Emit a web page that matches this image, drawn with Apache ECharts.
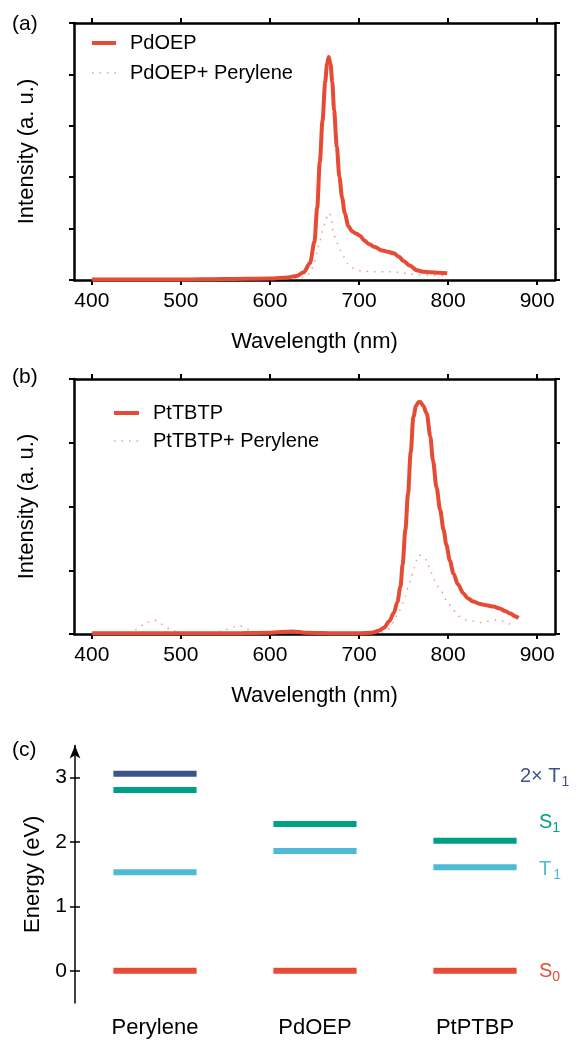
<!DOCTYPE html>
<html>
<head>
<meta charset="utf-8">
<script src="https://cdn.jsdelivr.net/npm/echarts@6/dist/echarts.min.js"></script>
<style>
html,body{margin:0;padding:0;background:#fff;}
#chart{width:577px;height:1040px;}
</style>
</head>
<body>
<div id="chart"></div>
<script>
// ---------- DATA ----------
// Panel (a): PdOEP emission
const pdoepWl  = [400,450,500,550,600,620,630,638,645,650,653,656,659,662,664,666,668,670,672,675,678,681,684,688,692,697,701,706,711,718,725,732,739,745,750,757,765,772,780,790,799];
const pdoepVal = [0.01,0.01,0.01,0.02,0.03,0.05,0.08,0.15,0.33,0.75,1.4,2.3,3.1,3.85,4.2,4.34,4.2,3.85,3.3,2.6,2.0,1.6,1.3,1.05,0.95,0.9,0.86,0.77,0.7,0.64,0.58,0.55,0.52,0.45,0.37,0.28,0.19,0.16,0.15,0.14,0.13];
const pdoepPerWl  = [400,500,600,630,640,645,650,653,656,659,662,665,667,669,671,675,679,683,687,692,698,705,717,735,745,754,765,780,798];
const pdoepPerVal = [0.01,0.01,0.02,0.03,0.06,0.13,0.35,0.55,0.78,0.95,1.12,1.28,1.3,1.15,0.92,0.72,0.58,0.45,0.32,0.24,0.19,0.17,0.16,0.16,0.15,0.13,0.1,0.09,0.08];

// Panel (b): PtTBTP emission
const pttbtpWl  = [400,450,500,550,600,625,640,680,700,714,722,728,734,739,743,746.5,749,752,755,758,761,764,767,769,772,776,780,783,787,791,795,798,802,806,811,817,822,828,836,843,851,858,864,870,875,879];
const pttbtpVal = [0.01,0.01,0.01,0.01,0.02,0.04,0.02,0.01,0.01,0.02,0.05,0.1,0.2,0.33,0.5,0.74,1.1,1.63,2.2,2.85,3.4,3.58,3.64,3.64,3.58,3.46,3.1,2.72,2.3,1.95,1.63,1.4,1.15,0.95,0.78,0.64,0.56,0.51,0.47,0.45,0.43,0.4,0.36,0.32,0.28,0.25];
const pttbtpPerWl  = [441,450,458,463,470,476,482,490,500,520,540,552,560,566,572,580,590,610,640,680,720,730,735,739,743,746,749,752,755,758,761,764,767,771,776,780,784,788,792,799,805,810,815,821,828,836,843,851,857,862,868,875];
const pttbtpPerVal = [0.02,0.07,0.14,0.19,0.22,0.18,0.12,0.05,0.03,0.02,0.03,0.07,0.11,0.13,0.09,0.04,0.02,0.02,0.01,0.01,0.01,0.04,0.09,0.2,0.3,0.38,0.48,0.59,0.72,0.84,1.0,1.15,1.24,1.22,1.16,1.0,0.85,0.75,0.67,0.51,0.4,0.3,0.25,0.22,0.2,0.18,0.2,0.22,0.22,0.2,0.16,0.12];

const wlTicks = [400,500,600,700,800,900];

// Panel (c): energy levels (eV)
const levelCategories = ['Perylene','PdOEP','PtPTBP'];
const twoT1Levels = [3.06, null, null];
const s1Levels = [2.81, 2.28, 2.02];
const t1Levels = [1.53, 1.86, 1.61];
const s0Levels = [0, 0, 0];
const energyTicks = [0,1,2,3];

// ---------- STYLE ----------
const FONT = 'Liberation Sans, Arial, sans-serif';
const RED = '#E64B35', LBLUE = '#4DBBD5', TEAL = '#00A087', NAVY = '#3C5488';
const DASH = '#EF9888';

function pairs(x, y){ return x.map((v,i)=>[v,y[i]]); }

function boxX(grid, pos, withLabels, name){
  return {
    type:'value', gridIndex:grid, position:pos, min:380, max:920,
    axisLine:{show:true, onZero:false, lineStyle:{color:'#000', width:2.5}},
    axisTick:{show:true, inside:false, length:5, lineStyle:{color:'#000', width:2}, customValues:wlTicks},
    axisLabel:{show:withLabels, customValues:wlTicks, color:'#000', fontSize:21, fontFamily:FONT, margin:11},
    splitLine:{show:false},
    name: name || '', nameLocation:'middle', nameGap:51,
    nameTextStyle:{color:'#000', fontSize:22, fontFamily:FONT}
  };
}
function boxY(grid, pos, max, name){
  return {
    type:'value', gridIndex:grid, position:pos, min:0, max:max, interval:1,
    axisLine:{show:true, onZero:false, lineStyle:{color:'#000', width:2.5}},
    axisTick:{show:true, inside:false, length:5, lineStyle:{color:'#000', width:2}},
    axisLabel:{show:false},
    splitLine:{show:false},
    name: name || '', nameLocation:'middle', nameGap:36, nameRotate:90,
    nameTextStyle:{color:'#000', fontSize:22, fontFamily:FONT}
  };
}

function levelSeries(name, values, color){
  return {
    type:'custom', name:name, xAxisIndex:4, yAxisIndex:4,
    data: values.map((v,i)=> v===null ? null : [i, v]).filter(d=>d!==null),
    renderItem: function(params, api){
      const c = api.coord([api.value(0), api.value(1)]);
      const w = api.size([1,0])[0]*0.52;
      return {type:'rect', shape:{x:c[0]-w/2, y:c[1]-3, width:w, height:6}, style:{fill:color}};
    },
    silent:true
  };
}

const legendCommon = {
  orient:'vertical', itemHeight:14,
  itemStyle:{opacity:0, borderWidth:0},
  textStyle:{color:'#000', fontSize:20, fontFamily:FONT, lineHeight:20, padding:[0,0,0,9]}
};

const chart = echarts.init(document.getElementById('chart'), null, {renderer:'canvas'});
const option = {
  backgroundColor:'#fff',
  animation:false,
  textStyle:{fontFamily:FONT},
  grid:[
    {left:74, top:23, width:481, height:257},
    {left:74, top:379, width:481, height:255},
    {left:75, top:745.5, width:480, height:257.5}
  ],
  legend:[
    Object.assign({left:85, top:28, itemWidth:24, itemGap:10,
      data:[{name:'PdOEP', lineStyle:{width:4}}, {name:'PdOEP+ Perylene', lineStyle:{width:1.5}}]}, legendCommon),
    Object.assign({left:107, top:398, itemWidth:25, itemGap:8,
      data:[{name:'PtTBTP', lineStyle:{width:4}}, {name:'PtTBTP+ Perylene', lineStyle:{width:1.5}}]}, legendCommon)
  ],
  xAxis:[
    boxX(0,'bottom',true,'Wavelength (nm)'),
    boxX(0,'top',false),
    boxX(1,'bottom',true,'Wavelength (nm)'),
    boxX(1,'top',false),
    {type:'category', gridIndex:2, position:'bottom', data:levelCategories, boundaryGap:true,
     axisLine:{show:false}, axisTick:{show:false},
     axisLabel:{color:'#000', fontSize:22, fontFamily:FONT, margin:14}}
  ],
  yAxis:[
    boxY(0,'left',5,'Intensity (a. u.)'),
    boxY(0,'right',5),
    boxY(1,'left',4,'Intensity (a. u.)'),
    boxY(1,'right',4),
    {type:'value', gridIndex:2, position:'left', min:-0.5, max:3.5,
     axisLine:{show:true, onZero:false, symbol:['none','arrow'], symbolSize:[8,13], lineStyle:{color:'#000', width:1.5}},
     axisTick:{show:true, inside:false, length:5, customValues:energyTicks, lineStyle:{color:'#000', width:1.5}},
     axisLabel:{customValues:energyTicks, color:'#000', fontSize:21, fontFamily:FONT, margin:8},
     splitLine:{show:false},
     name:'Energy (eV)', nameLocation:'middle', nameGap:28, nameRotate:90,
     nameTextStyle:{color:'#000', fontSize:22, fontFamily:FONT}},
    {type:'value', gridIndex:2, position:'left', min:-0.5, max:3.5,
     axisLine:{show:false},
     axisTick:{show:true, inside:true, length:5, customValues:energyTicks, lineStyle:{color:'#000', width:1.5}},
     axisLabel:{show:false}, splitLine:{show:false}}
  ],
  series:[
    {name:'PdOEP+ Perylene', type:'line', xAxisIndex:0, yAxisIndex:0, data:pairs(pdoepPerWl,pdoepPerVal),
     symbol:'none', smooth:0.3, smoothMonotone:'x', color:DASH,
     lineStyle:{color:DASH, width:1.5, type:[1.5,6]}},
    {name:'PdOEP', type:'line', xAxisIndex:0, yAxisIndex:0, data:pairs(pdoepWl,pdoepVal),
     symbol:'none', smooth:0.3, smoothMonotone:'x', color:RED,
     lineStyle:{color:RED, width:4}},
    {name:'PtTBTP+ Perylene', type:'line', xAxisIndex:2, yAxisIndex:2, data:pairs(pttbtpPerWl,pttbtpPerVal),
     symbol:'none', smooth:0.3, smoothMonotone:'x', color:DASH,
     lineStyle:{color:DASH, width:1.5, type:[1.5,6]}},
    {name:'PtTBTP', type:'line', xAxisIndex:2, yAxisIndex:2, data:pairs(pttbtpWl,pttbtpVal),
     symbol:'none', smooth:0.3, smoothMonotone:'x', color:RED,
     lineStyle:{color:RED, width:4}},
    levelSeries('2×T1', twoT1Levels, NAVY),
    levelSeries('S1', s1Levels, TEAL),
    levelSeries('T1', t1Levels, LBLUE),
    levelSeries('S0', s0Levels, RED)
  ],
  graphic:[
    {type:'text', left:12, top:14, style:{text:'(a)', fontSize:21, fontFamily:FONT, fill:'#000'}},
    {type:'text', left:12, top:367, style:{text:'(b)', fontSize:21, fontFamily:FONT, fill:'#000'}},
    {type:'text', left:12, top:740, style:{text:'(c)', fontSize:21, fontFamily:FONT, fill:'#000'}},
    {type:'text', left:520, top:766, style:{text:'2× T{s|1}', fontSize:20, fontFamily:FONT, fill:NAVY,
      rich:{s:{fontSize:14, fill:NAVY, fontFamily:FONT, padding:[12,0,0,1]}}}},
    {type:'text', left:539, top:812, style:{text:'S{s|1}', fontSize:20, fontFamily:FONT, fill:TEAL,
      rich:{s:{fontSize:14, fill:TEAL, fontFamily:FONT, padding:[12,0,0,0]}}}},
    {type:'text', left:539, top:859, style:{text:'T{s|1}', fontSize:20, fontFamily:FONT, fill:LBLUE,
      rich:{s:{fontSize:14, fill:LBLUE, fontFamily:FONT, padding:[12,0,0,2]}}}},
    {type:'text', left:539, top:961, style:{text:'S{s|0}', fontSize:20, fontFamily:FONT, fill:RED,
      rich:{s:{fontSize:14, fill:RED, fontFamily:FONT, padding:[12,0,0,0]}}}}
  ]
};
chart.setOption(option);
</script>
</body>
</html>
